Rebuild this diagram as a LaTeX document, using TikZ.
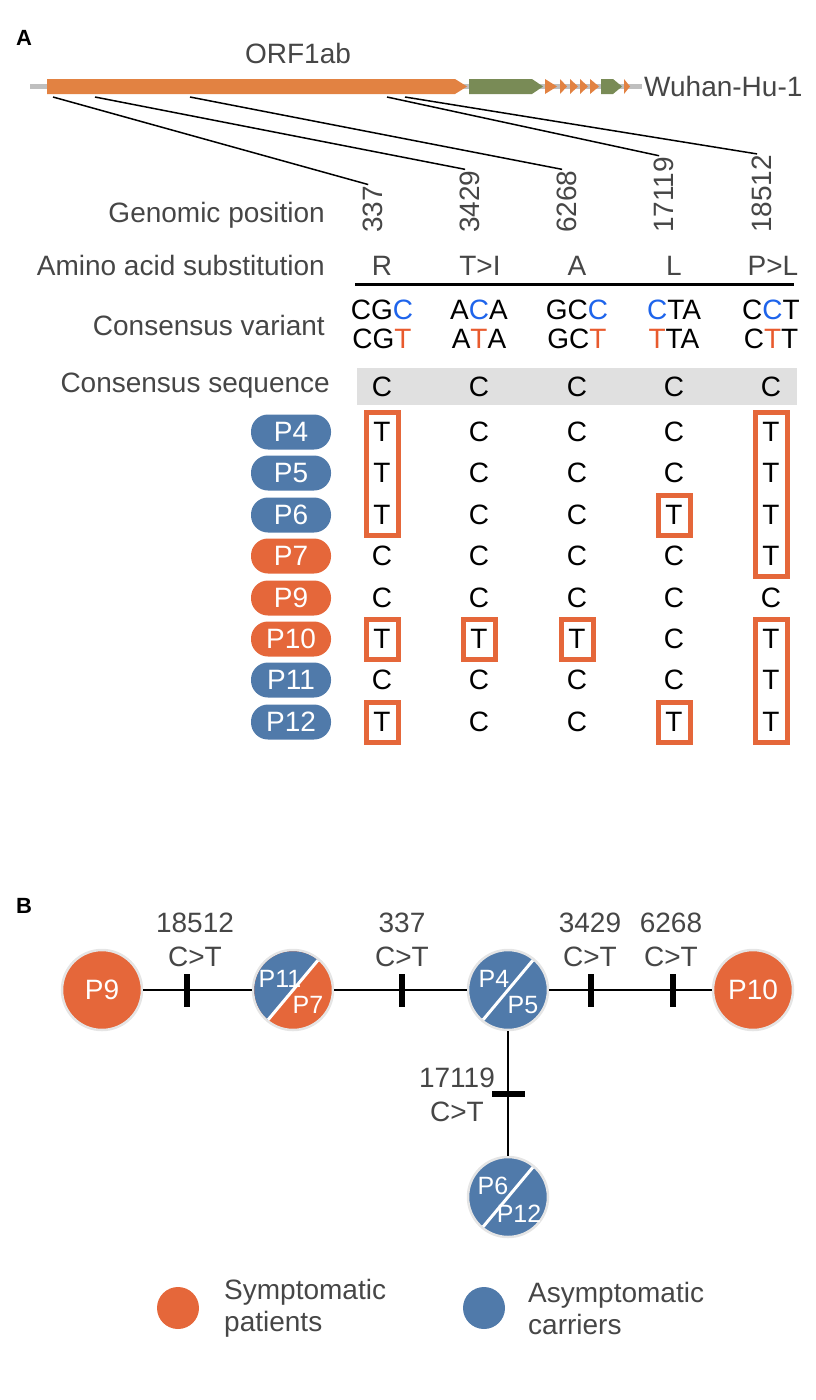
\documentclass[tikz,border=0pt]{standalone}
\usepackage{fontspec}
\setmainfont{Liberation Sans}
\usetikzlibrary{fit}
\definecolor{sorange}{RGB}{229,103,58}
\definecolor{sblue}{RGB}{80,122,170}
\definecolor{gorange}{RGB}{226,130,66}
\definecolor{ggreen}{RGB}{121,139,86}
\definecolor{txtgray}{RGB}{70,70,70}
\definecolor{varblue}{RGB}{30,100,235}
\definecolor{varred}{RGB}{232,90,45}

\begin{document}
\begin{tikzpicture}[x=1pt, y=-1pt,
  every node/.style={inner sep=0pt, font=\fontsize{28}{34}\selectfont},
  panellabel/.style={font=\fontsize{22}{26}\selectfont\bfseries},
  rowlabel/.style={text=txtgray, anchor=east},
  posnum/.style={text=txtgray, rotate=90, anchor=west},
  aalabel/.style={text=txtgray},
  varlabel/.style={align=center, font=\fontsize{28}{29}\selectfont},
  seqband/.style={fill=black!12, minimum width=440, minimum height=37},
  seqcell/.style={minimum width=32, minimum height=40, outer sep=0pt},
  hitbox/.style={draw=sorange, line width=5, inner sep=0pt},
  pill/.style={fill=#1, text=white, rounded corners=17, minimum width=80, minimum height=35},
  patient/.style={circle, fill=#1, draw=black!10, line width=2.5, minimum size=80, text=white},
  splitlabel/.style={text=white, font=\fontsize{25}{30}\selectfont},
  snpmark/.style={fill=black, minimum width=6, minimum height=33},
  mutlabel/.style={text=txtgray, align=center},
  link/.style={line width=2.8},
  thinline/.style={line width=1.5, shorten >=5},
  legdot/.style={circle, fill=#1, minimum size=42},
  legtext/.style={text=txtgray, anchor=west, align=left, font=\fontsize{28}{32}\selectfont}
]
\useasboundingbox (0,0) rectangle (815,1400);

\node[panellabel] (pa) at (24,38) {A};
\node[panellabel] (pb) at (24,906) {B};

\draw[line width=5, draw=black!25] (30,86.5) -- (642,86.5);
\fill[gorange] (47,79) -- (455,79) -- (467,86.5) -- (455,94) -- (47,94) -- cycle;
\fill[ggreen] (469,79) -- (532,79) -- (543,86.5) -- (532,94) -- (469,94) -- cycle;
\fill[gorange] (545,79) -- (557,86.5) -- (545,94) -- cycle;
\fill[gorange] (560,79) -- (567,86.5) -- (560,94) -- cycle;
\fill[gorange] (570,79) -- (578,86.5) -- (570,94) -- cycle;
\fill[gorange] (580,79) -- (588,86.5) -- (580,94) -- cycle;
\fill[gorange] (590,79) -- (599,86.5) -- (590,94) -- cycle;
\fill[ggreen] (601,79) -- (613,79) -- (622,86.5) -- (613,94) -- (601,94) -- cycle;
\fill[gorange] (624,79) -- (630,86.5) -- (624,94) -- cycle;
\node[text=txtgray] (orf) at (298,53) {ORF1ab};
\node[text=txtgray, anchor=west] (wuhan) at (644,86.5) {Wuhan-Hu-1};

\node[rowlabel] (hgen) at (325,215) {Genomic position};
\node[rowlabel] (hamino) at (325,265) {Amino acid substitution};
\node[rowlabel] (hvar) at (325,325) {Consensus variant};
\node[rowlabel] (hseq) at (330,386) {Consensus sequence};

\node[posnum] (g337) at (373,233) {337};
\node[posnum] (g3429) at (470,233) {3429};
\node[posnum] (g6268) at (567,233) {6268};
\node[posnum] (g17119) at (664,233) {17119};
\node[posnum] (g18512) at (762,233) {18512};
\coordinate (s337) at (53,97);
\coordinate (s3429) at (95,97);
\coordinate (s6268) at (190,97);
\coordinate (s17119) at (387,97);
\coordinate (s18512) at (405,97);
\draw[thinline] (s337) -- (g337.east);
\draw[thinline] (s3429) -- (g3429.east);
\draw[thinline] (s6268) -- (g6268.east);
\draw[thinline] (s17119) -- (g17119.east);
\draw[thinline] (s18512) -- (g18512.east);

\node[aalabel] (aa1) at (382,266) {R};
\node[aalabel] (aa2) at (480,266) {T>I};
\node[aalabel] (aa3) at (577,266) {A};
\node[aalabel] (aa4) at (674,266) {L};
\node[aalabel] (aa5) at (773,266) {P>L};
\draw[line width=3] (355,284) -- (794,284);

\node[varlabel] (v1) at (382,324) {CG\textcolor{varblue}{C}\\CG\textcolor{varred}{T}};
\node[varlabel] (v2) at (479,324) {A\textcolor{varblue}{C}A\\A\textcolor{varred}{T}A};
\node[varlabel] (v3) at (577,324) {GC\textcolor{varblue}{C}\\GC\textcolor{varred}{T}};
\node[varlabel] (v4) at (674,324) {\textcolor{varblue}{C}TA\\\textcolor{varred}{T}TA};
\node[varlabel] (v5) at (771,324) {C\textcolor{varblue}{C}T\\C\textcolor{varred}{T}T};

\node[seqband] (cseq) at (577,386.5) {};
\node (q1) at (382,387) {C};
\node (q2) at (479,387) {C};
\node (q3) at (577,387) {C};
\node (q4) at (674,387) {C};
\node (q5) at (771,387) {C};

\node[pill=sblue] (p4) at (291,432) {P4};
\node[pill=sblue] (p5) at (291,473) {P5};
\node[pill=sblue] (p6) at (291,515) {P6};
\node[pill=sorange] (p7) at (291,556) {P7};
\node[pill=sorange] (p9) at (291,598) {P9};
\node[pill=sorange] (p10) at (291,639) {P10};
\node[pill=sblue] (p11) at (291,680) {P11};
\node[pill=sblue] (p12) at (291,722) {P12};

\node[seqcell] (p4-1) at (382,432) {T};
\node[seqcell] (p4-2) at (479,432) {C};
\node[seqcell] (p4-3) at (577,432) {C};
\node[seqcell] (p4-4) at (674,432) {C};
\node[seqcell] (p4-5) at (771,432) {T};
\node[seqcell] (p5-1) at (382,473) {T};
\node[seqcell] (p5-2) at (479,473) {C};
\node[seqcell] (p5-3) at (577,473) {C};
\node[seqcell] (p5-4) at (674,473) {C};
\node[seqcell] (p5-5) at (771,473) {T};
\node[seqcell] (p6-1) at (382,515) {T};
\node[seqcell] (p6-2) at (479,515) {C};
\node[seqcell] (p6-3) at (577,515) {C};
\node[seqcell] (p6-4) at (674,515) {T};
\node[seqcell] (p6-5) at (771,515) {T};
\node[seqcell] (p7-1) at (382,556) {C};
\node[seqcell] (p7-2) at (479,556) {C};
\node[seqcell] (p7-3) at (577,556) {C};
\node[seqcell] (p7-4) at (674,556) {C};
\node[seqcell] (p7-5) at (771,556) {T};
\node[seqcell] (p9-1) at (382,598) {C};
\node[seqcell] (p9-2) at (479,598) {C};
\node[seqcell] (p9-3) at (577,598) {C};
\node[seqcell] (p9-4) at (674,598) {C};
\node[seqcell] (p9-5) at (771,598) {C};
\node[seqcell] (p10-1) at (382,639) {T};
\node[seqcell] (p10-2) at (479,639) {T};
\node[seqcell] (p10-3) at (577,639) {T};
\node[seqcell] (p10-4) at (674,639) {C};
\node[seqcell] (p10-5) at (771,639) {T};
\node[seqcell] (p11-1) at (382,680) {C};
\node[seqcell] (p11-2) at (479,680) {C};
\node[seqcell] (p11-3) at (577,680) {C};
\node[seqcell] (p11-4) at (674,680) {C};
\node[seqcell] (p11-5) at (771,680) {T};
\node[seqcell] (p12-1) at (382,722) {T};
\node[seqcell] (p12-2) at (479,722) {C};
\node[seqcell] (p12-3) at (577,722) {C};
\node[seqcell] (p12-4) at (674,722) {T};
\node[seqcell] (p12-5) at (771,722) {T};

\node[hitbox, fit=(p4-1)(p6-1)] (h1) {};
\node[hitbox, fit=(p4-5)(p7-5)] (h2) {};
\node[hitbox, fit=(p6-4)] (h3) {};
\node[hitbox, fit=(p10-1)] (h4) {};
\node[hitbox, fit=(p10-2)] (h5) {};
\node[hitbox, fit=(p10-3)] (h6) {};
\node[hitbox, fit=(p10-5)(p12-5)] (h7) {};
\node[hitbox, fit=(p12-1)] (h8) {};
\node[hitbox, fit=(p12-4)] (h9) {};

\node[patient=sorange] (n9) at (102,990) {P9};
\node[patient=sorange] (n7) at (293,990) {};
\node[patient=sblue] (n5) at (508,990) {};
\node[patient=sorange] (n10) at (753,990) {P10};
\node[patient=sblue] (n12) at (508,1197) {};
\begin{scope}[shift={(n7.center)}]
  \clip (0,0) circle[radius=38.7];
  \fill[sblue] (46,-55) -- (-46,55) -- (-90,0) -- (0,-90) -- cycle;
  \draw[white, line width=3] (46,-55) -- (-46,55);
\end{scope}
\begin{scope}[shift={(n5.center)}]
  \clip (0,0) circle[radius=38.7];
  \draw[white, line width=3] (46,-55) -- (-46,55);
\end{scope}
\begin{scope}[shift={(n12.center)}]
  \clip (0,0) circle[radius=38.7];
  \draw[white, line width=3] (46,-55) -- (-46,55);
\end{scope}
\node[splitlabel] (l11) at ([shift={(-13,-11)}]n7.center) {P11};
\node[splitlabel] (l7) at ([shift={(15,15)}]n7.center) {P7};
\node[splitlabel] (l4) at ([shift={(-14,-11)}]n5.center) {P4};
\node[splitlabel] (l5) at ([shift={(15,15)}]n5.center) {P5};
\node[splitlabel] (l6) at ([shift={(-15,-11)}]n12.center) {P6};
\node[splitlabel] (l12) at ([shift={(11,17)}]n12.center) {P12};

\draw[link] (n9) -- (n7);
\draw[link] (n7) -- (n5);
\draw[link] (n5) -- (n10);
\draw[link] (n5) -- (n12);
\node[snpmark] (k18512) at (187,990) {};
\node[snpmark] (k337) at (402,990) {};
\node[snpmark] (k3429) at (591,990) {};
\node[snpmark] (k6268) at (673,990) {};
\node[snpmark, rotate=90] (k17119) at (508,1094) {};
\node[mutlabel] (m18512) at (195,940) {18512\\C>T};
\node[mutlabel] (m337) at (402,940) {337\\C>T};
\node[mutlabel] (m3429) at (590,940) {3429\\C>T};
\node[mutlabel] (m6268) at (671,940) {6268\\C>T};
\node[mutlabel] (m17119) at (457,1095) {17119\\C>T};

\node[legdot=sorange] (ksym) at (178,1308) {};
\node[legtext] (tsym) at (224,1308) {Symptomatic\\patients};
\node[legdot=sblue] (kasym) at (484,1308) {};
\node[legtext] (tasym) at (528,1308) {Asymptomatic\\carriers};
\end{tikzpicture}
\end{document}
